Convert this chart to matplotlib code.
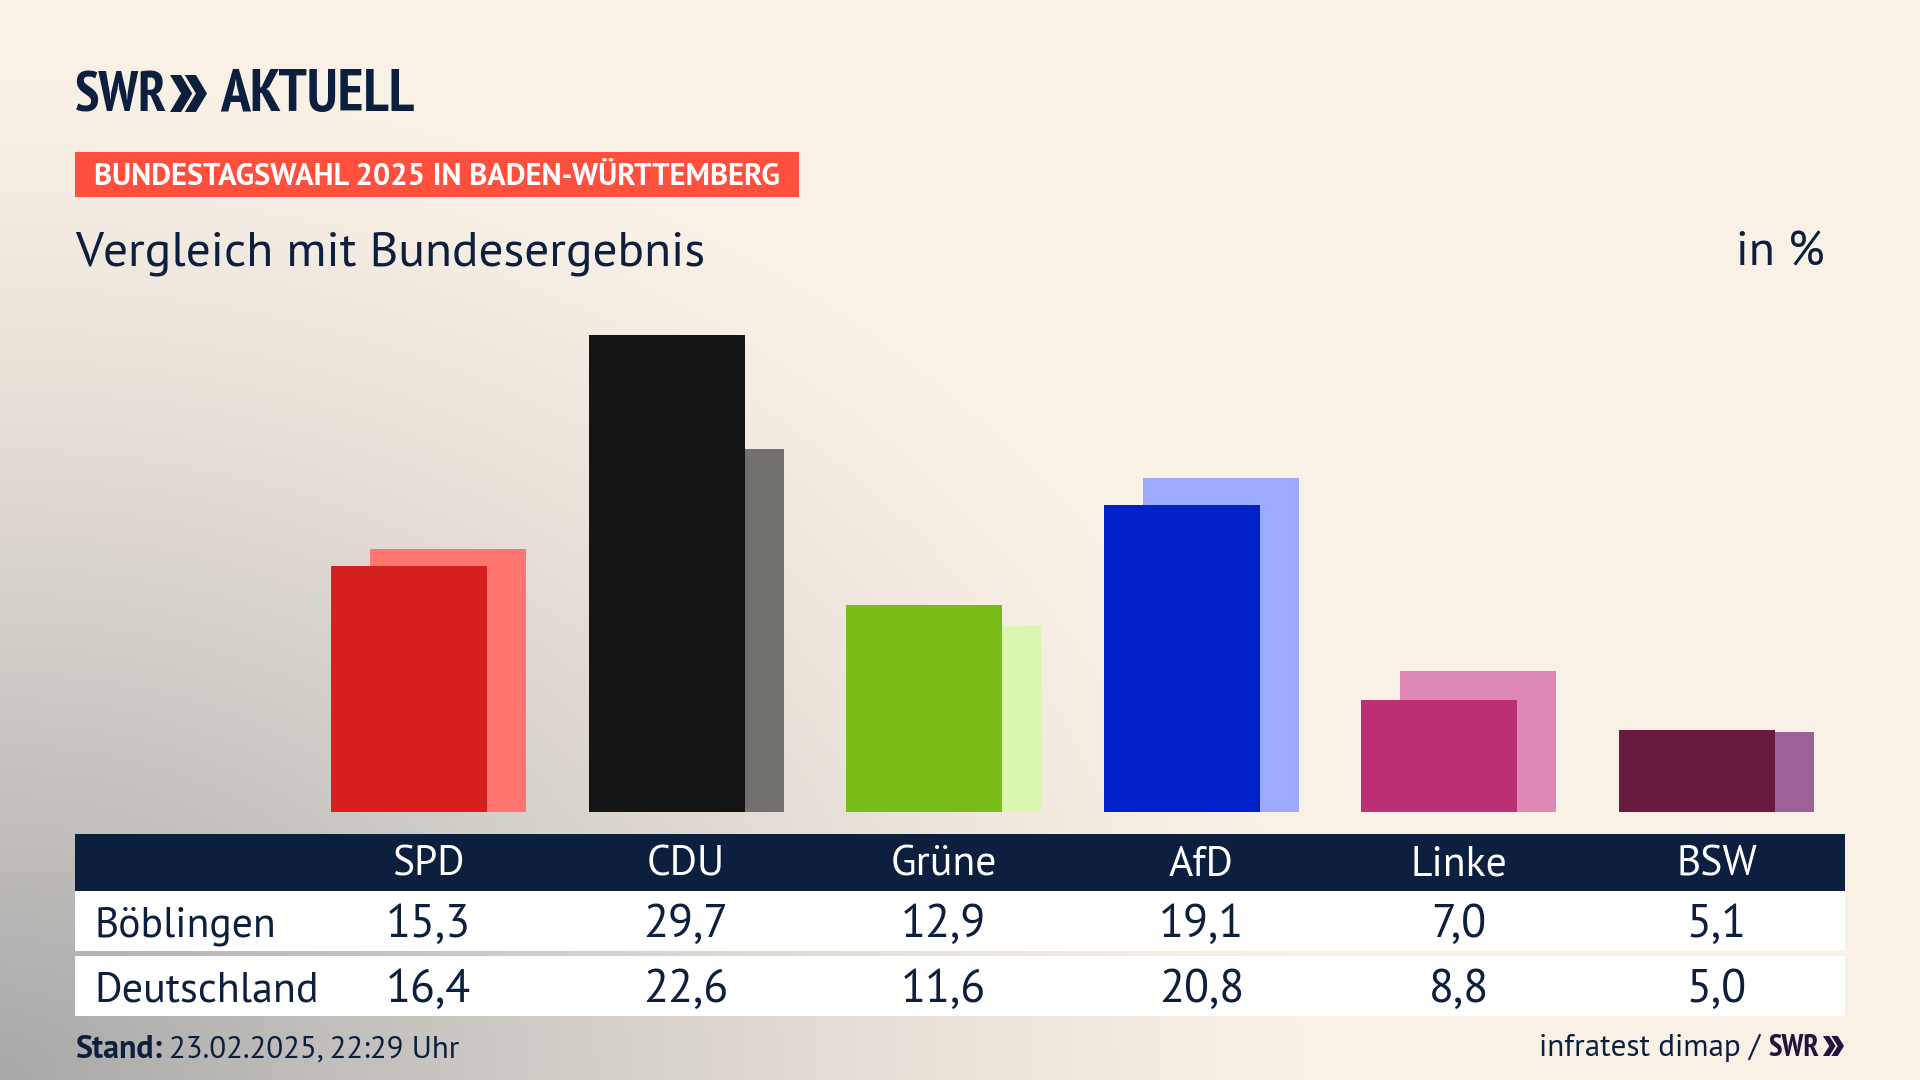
import numpy as np
import matplotlib
matplotlib.use("Agg")
import matplotlib.pyplot as plt
from matplotlib.patches import Polygon, Rectangle

# data
parties = ['SPD', 'CDU', 'Grüne', 'AfD', 'Linke', 'BSW']
boeblingen = [15.3, 29.7, 12.9, 19.1, 7.0, 5.1]
deutschland = [16.4, 22.6, 11.6, 20.8, 8.8, 5.0]
row_labels = ['Böblingen', 'Deutschland']
front_colors = ['#D6201F', '#141414', '#79BD19', '#0022C8', '#BD2F74', '#6A193F']
back_colors = ['#FF7570', '#73716E', '#D9F7AE', '#9DABFF', '#DE88B5', '#9B6298']

NAVY = '#0C1F3F'
CREAM = np.array([250, 241, 230]) / 255
GREY = np.array([168, 168, 168]) / 255
FONT = ['PT Sans', 'Lato']
LOGO_FONT = ['PT Sans Narrow', 'Lato']
W, H = 1920, 1080


def chevrons(ax, x, top, bottom, width, color):
    """two arrow heads like in the SWR logo"""
    mid = (top + bottom) / 2
    arm = width * 0.6
    thick = width * 0.3
    for off in (0, width - arm):
        pts = [(x + off, top), (x + off + thick, top), (x + off + arm, mid),
               (x + off + thick, bottom), (x + off, bottom), (x + off + arm - thick, mid)]
        ax.add_patch(Polygon(pts, closed=True, color=color, lw=0))


fig = plt.figure(figsize=(W / 100, H / 100), dpi=100)

# background: grey glow from the bottom left corner
bg = fig.add_axes([0, 0, 1, 1], zorder=0)
yy, xx = np.mgrid[0:H:270j, 0:W:480j]
dist = np.sqrt((xx / 1300) ** 2 + ((H - yy) / 1000) ** 2)
glow = np.clip(1 - dist, 0, 1) ** 1.25
img = CREAM + (GREY - CREAM) * glow[..., None]
bg.imshow(img, extent=(0, W, H, 0), aspect='auto', interpolation='bilinear')
bg.axis('off')

# bars, one x unit is one party column
px_left, px_right, px_base = 75, 1845, 812
unit = 257.6
center0 = 428.5
px_per_pct = 16.05
ymax = 30
ax = fig.add_axes([px_left / W, 1 - px_base / H, (px_right - px_left) / W, ymax * px_per_pct / H], zorder=1)
ax.patch.set_alpha(0)
x = np.arange(len(parties))
bar_w = 156 / unit
shift = 19.5 / unit
ax.bar(x + shift, deutschland, bar_w, color=back_colors)
ax.bar(x - shift, boeblingen, bar_w, color=front_colors)
ax.set_xlim((px_left - center0) / unit, (px_right - center0) / unit)
ax.set_ylim(0, ymax)
ax.axis('off')

# everything else in pixel coordinates
top = fig.add_axes([0, 0, 1, 1], zorder=2)
top.set_xlim(0, W)
top.set_ylim(H, 0)
top.axis('off')
top.patch.set_alpha(0)


def text(px, py, s, size, color=NAVY, ha='left', weight='normal', family=FONT):
    return top.text(px, py, s, fontsize=size, color=color, ha=ha, va='baseline', weight=weight, family=family)


# logo
text(75, 111, 'SWR', 40, weight='bold', family=LOGO_FONT)
chevrons(top, 170, 75, 112, 37, NAVY)
text(220, 111, 'AKTUELL', 43, weight='bold', family=LOGO_FONT)

# header
top.add_patch(Rectangle((75, 152), 724, 45, color='#FF4F3D', lw=0))
text(94, 185, 'BUNDESTAGSWAHL 2025 IN BADEN-WÜRTTEMBERG', 22, color='white', weight='bold')
text(75, 265, 'Vergleich mit Bundesergebnis', 35.6)
text(1825, 265, 'in %', 34.5, ha='right')

# table
top.add_patch(Rectangle((75, 834), 1770, 57, color=NAVY, lw=0))
top.add_patch(Rectangle((75, 891), 1770, 60, color='white', lw=0))
top.add_patch(Rectangle((75, 956), 1770, 60, color='white', lw=0))
centers = center0 + x * unit
for cx, name, a, b in zip(centers, parties, boeblingen, deutschland):
    text(cx, 876, name, 30, color='white', ha='center')
    text(cx, 937, f'{a:.1f}'.replace('.', ','), 33, ha='center')
    text(cx, 1002, f'{b:.1f}'.replace('.', ','), 33, ha='center')
text(94, 936, row_labels[0], 30)
text(94, 1001, row_labels[1], 30.3)

# footer
text(75, 1058, 'Stand:', 23, weight='bold')
text(169, 1058, '23.02.2025, 22:29 Uhr', 22.2)
text(1760, 1056, 'infratest dimap /', 22.4, ha='right')
text(1768, 1056, 'SWR', 22, color='#24123F', weight='bold', family=LOGO_FONT)
chevrons(top, 1823, 1036, 1056, 21, '#24123F')

fig.savefig('out.png', dpi=100)
